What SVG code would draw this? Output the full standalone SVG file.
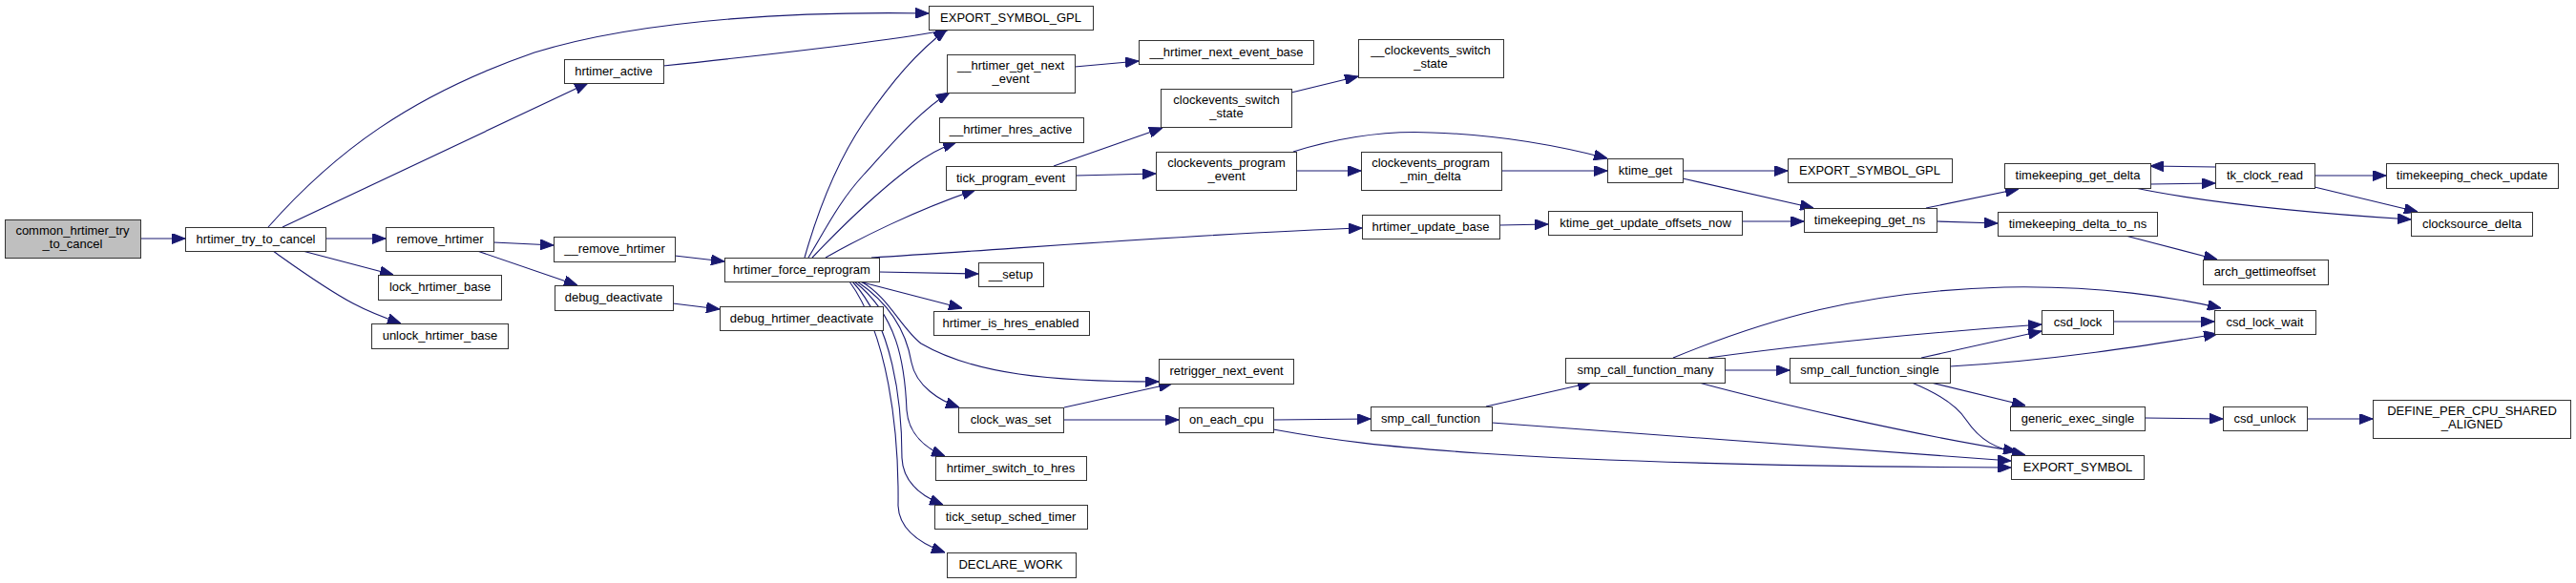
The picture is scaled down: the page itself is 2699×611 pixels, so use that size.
<svg xmlns="http://www.w3.org/2000/svg" width="2699" height="611" viewBox="0 0 2699 611">
<style>
.n rect{fill:#fff;stroke:#333;stroke-width:1}
.n text{font-family:"Liberation Sans",Arial,sans-serif;font-size:13px;fill:#000;text-anchor:middle}
.e path{fill:none;stroke:#191970;stroke-width:1.1;marker-end:url(#a)}
</style>
<defs>
<marker id="a" markerUnits="userSpaceOnUse" markerWidth="14" markerHeight="11" viewBox="0 0 14 11" refX="14" refY="5.5" orient="auto"><path d="M0,0 L14,5.5 L0,11 z" fill="#191970" stroke="#191970"/></marker>
</defs>
<rect width="2699" height="611" fill="#fff"/>
<g class="e" id="edges">
<path d="M147,250 L194,250"/>
<path d="M281,238 C350,160 430,100 560,55 C680,18 850,12 973,14"/>
<path d="M296,238 L616,87"/>
<path d="M341,250 L404,250"/>
<path d="M317,263 L412,288"/>
<path d="M286,263 C310,280 340,302 370,318 C385,326 400,332 420,339"/>
<path d="M695,69 C800,58 920,45 994,31"/>
<path d="M517,254 L580,257"/>
<path d="M500,263 L605,299"/>
<path d="M707,268 L759,274"/>
<path d="M705,318 L754,324"/>
<path d="M843,270 C860,210 880,165 905,128 C935,85 960,55 992,31"/>
<path d="M847,270 C865,240 880,210 905,183 C935,150 965,115 995,97"/>
<path d="M851,270 C870,250 890,230 910,212 C940,185 970,160 1002,149"/>
<path d="M865,270 C900,250 960,220 1022,199"/>
<path d="M913,270 C1050,262 1250,245 1427,239"/>
<path d="M921,285 L1025,287"/>
<path d="M900,295 L1008,323"/>
<path d="M902,295 C930,310 945,345 965,360 C1020,392 1100,400 1214,400"/>
<path d="M898,295 C935,320 950,350 955,380 C960,405 985,420 1005,427"/>
<path d="M895,295 C940,330 948,380 950,430 C952,455 970,470 990,478"/>
<path d="M893,295 C935,340 945,420 945,480 C946,505 965,520 988,529"/>
<path d="M890,295 C930,350 942,450 941,530 C942,555 965,570 990,579"/>
<path d="M1126,70 L1193,64"/>
<path d="M1104,174 L1218,134"/>
<path d="M1127,184 L1211,182"/>
<path d="M1353,97 L1423,80"/>
<path d="M1355,159 C1410,142 1460,137 1500,139 C1570,141 1630,152 1684,166"/>
<path d="M1358,179 L1426,179"/>
<path d="M1573,179 L1684,179"/>
<path d="M1763,179 L1873,179"/>
<path d="M1763,187 L1900,218"/>
<path d="M1571,236 L1622,235"/>
<path d="M1825,232 L1890,232"/>
<path d="M2018,218 L2115,198"/>
<path d="M2029,232 L2093,234"/>
<path d="M2253,193 L2321,192"/>
<path d="M2321,175 L2253,174"/>
<path d="M2237,197 C2300,210 2400,222 2526,230"/>
<path d="M2425,184 L2500,184"/>
<path d="M2425,196 L2533,222"/>
<path d="M2227,247 L2323,272"/>
<path d="M1115,427 L1228,402"/>
<path d="M1114,440 L1235,440"/>
<path d="M1334,440 L1436,439"/>
<path d="M1334,450 C1400,462 1450,468 1550,475 C1700,485 1900,489 2107,490"/>
<path d="M1557,426 L1667,401"/>
<path d="M1563,443 C1700,452 1900,468 2107,483"/>
<path d="M1753,375 C1850,335 1950,305 2100,301 C2200,299 2280,312 2327,323"/>
<path d="M1790,375 C1900,360 2000,350 2139,340"/>
<path d="M1807,388 L1875,388"/>
<path d="M1780,401 C1850,420 2000,455 2113,473"/>
<path d="M2013,375 L2139,347"/>
<path d="M2043,384 C2150,378 2250,362 2323,350"/>
<path d="M2023,401 L2122,425"/>
<path d="M2003,401 C2030,412 2050,425 2060,440 C2075,462 2090,470 2122,477"/>
<path d="M2214,337 L2320,337"/>
<path d="M2247,438 L2329,439"/>
<path d="M2417,439 L2486,439"/>
</g>
<g class="n" id="n0"><rect x="5.5" y="230.5" width="142" height="40" style="fill:#bfbfbf"/><text x="76" y="246">common_hrtimer_try</text><text x="76" y="260">_to_cancel</text></g>
<g class="n" id="n1"><rect x="194.5" y="238.5" width="147" height="25"/><text x="268" y="255">hrtimer_try_to_cancel</text></g>
<g class="n" id="n2"><rect x="591.5" y="62.5" width="104" height="25"/><text x="643" y="79">hrtimer_active</text></g>
<g class="n" id="n3"><rect x="404.5" y="238.5" width="113" height="25"/><text x="461" y="255">remove_hrtimer</text></g>
<g class="n" id="n4"><rect x="396.5" y="288.5" width="129" height="26"/><text x="461" y="305">lock_hrtimer_base</text></g>
<g class="n" id="n5"><rect x="389.5" y="339.5" width="143" height="26"/><text x="461" y="356">unlock_hrtimer_base</text></g>
<g class="n" id="n6"><rect x="973.5" y="6.5" width="172" height="25"/><text x="1059" y="23">EXPORT_SYMBOL_GPL</text></g>
<g class="n" id="n7"><rect x="580.5" y="248.5" width="127" height="26"/><text x="644" y="265">__remove_hrtimer</text></g>
<g class="n" id="n8"><rect x="581.5" y="299.5" width="124" height="26"/><text x="643" y="316">debug_deactivate</text></g>
<g class="n" id="n9"><rect x="759.5" y="270.5" width="162" height="25"/><text x="840" y="287">hrtimer_force_reprogram</text></g>
<g class="n" id="n10"><rect x="754.5" y="321.5" width="171" height="25"/><text x="840" y="338">debug_hrtimer_deactivate</text></g>
<g class="n" id="n11"><rect x="992.5" y="57.5" width="134" height="40"/><text x="1059" y="73">__hrtimer_get_next</text><text x="1059" y="87">_event</text></g>
<g class="n" id="n12"><rect x="984.5" y="123.5" width="151" height="26"/><text x="1059" y="140">__hrtimer_hres_active</text></g>
<g class="n" id="n13"><rect x="991.5" y="174.5" width="136" height="25"/><text x="1059" y="191">tick_program_event</text></g>
<g class="n" id="n14"><rect x="1025.5" y="275.5" width="68" height="25"/><text x="1059" y="292">__setup</text></g>
<g class="n" id="n15"><rect x="978.5" y="326.5" width="163" height="25"/><text x="1059" y="343">hrtimer_is_hres_enabled</text></g>
<g class="n" id="n16"><rect x="1214.5" y="376.5" width="141" height="26"/><text x="1285" y="393">retrigger_next_event</text></g>
<g class="n" id="n17"><rect x="1004.5" y="427.5" width="110" height="26"/><text x="1059" y="444">clock_was_set</text></g>
<g class="n" id="n18"><rect x="980.5" y="478.5" width="158" height="25"/><text x="1059" y="495">hrtimer_switch_to_hres</text></g>
<g class="n" id="n19"><rect x="979.5" y="529.5" width="160" height="25"/><text x="1059" y="546">tick_setup_sched_timer</text></g>
<g class="n" id="n20"><rect x="992.5" y="579.5" width="135" height="26"/><text x="1059" y="596">DECLARE_WORK</text></g>
<g class="n" id="n21"><rect x="1193.5" y="42.5" width="183" height="25"/><text x="1285" y="59">__hrtimer_next_event_base</text></g>
<g class="n" id="n22"><rect x="1216.5" y="93.5" width="137" height="40"/><text x="1285" y="109">clockevents_switch</text><text x="1285" y="123">_state</text></g>
<g class="n" id="n23"><rect x="1211.5" y="159.5" width="147" height="40"/><text x="1285" y="175">clockevents_program</text><text x="1285" y="189">_event</text></g>
<g class="n" id="n24"><rect x="1427.5" y="225.5" width="144" height="25"/><text x="1499" y="242">hrtimer_update_base</text></g>
<g class="n" id="n25"><rect x="1235.5" y="427.5" width="99" height="26"/><text x="1285" y="444">on_each_cpu</text></g>
<g class="n" id="n26"><rect x="1423.5" y="41.5" width="152" height="40"/><text x="1499" y="57">__clockevents_switch</text><text x="1499" y="71">_state</text></g>
<g class="n" id="n27"><rect x="1426.5" y="159.5" width="147" height="40"/><text x="1499" y="175">clockevents_program</text><text x="1499" y="189">_min_delta</text></g>
<g class="n" id="n28"><rect x="1684.5" y="166.5" width="79" height="25"/><text x="1724" y="183">ktime_get</text></g>
<g class="n" id="n29"><rect x="1622.5" y="221.5" width="203" height="25"/><text x="1724" y="238">ktime_get_update_offsets_now</text></g>
<g class="n" id="n30"><rect x="1436.5" y="426.5" width="127" height="25"/><text x="1499" y="443">smp_call_function</text></g>
<g class="n" id="n31"><rect x="1640.5" y="375.5" width="167" height="26"/><text x="1724" y="392">smp_call_function_many</text></g>
<g class="n" id="n32"><rect x="1873.5" y="166.5" width="172" height="25"/><text x="1959" y="183">EXPORT_SYMBOL_GPL</text></g>
<g class="n" id="n33"><rect x="1890.5" y="218.5" width="139" height="25"/><text x="1959" y="235">timekeeping_get_ns</text></g>
<g class="n" id="n34"><rect x="2100.5" y="171.5" width="153" height="26"/><text x="2177" y="188">timekeeping_get_delta</text></g>
<g class="n" id="n35"><rect x="2093.5" y="222.5" width="167" height="25"/><text x="2177" y="239">timekeeping_delta_to_ns</text></g>
<g class="n" id="n36"><rect x="1875.5" y="375.5" width="168" height="26"/><text x="1959" y="392">smp_call_function_single</text></g>
<g class="n" id="n37"><rect x="2139.5" y="325.5" width="75" height="25"/><text x="2177" y="342">csd_lock</text></g>
<g class="n" id="n38"><rect x="2106.5" y="426.5" width="141" height="25"/><text x="2177" y="443">generic_exec_single</text></g>
<g class="n" id="n39"><rect x="2107.5" y="477.5" width="139" height="25"/><text x="2177" y="494">EXPORT_SYMBOL</text></g>
<g class="n" id="n40"><rect x="2321.5" y="171.5" width="104" height="26"/><text x="2373" y="188">tk_clock_read</text></g>
<g class="n" id="n41"><rect x="2500.5" y="171.5" width="180" height="26"/><text x="2590" y="188">timekeeping_check_update</text></g>
<g class="n" id="n42"><rect x="2526.5" y="222.5" width="127" height="25"/><text x="2590" y="239">clocksource_delta</text></g>
<g class="n" id="n43"><rect x="2308.5" y="272.5" width="131" height="26"/><text x="2373" y="289">arch_gettimeoffset</text></g>
<g class="n" id="n44"><rect x="2320.5" y="325.5" width="106" height="25"/><text x="2373" y="342">csd_lock_wait</text></g>
<g class="n" id="n45"><rect x="2329.5" y="426.5" width="88" height="25"/><text x="2373" y="443">csd_unlock</text></g>
<g class="n" id="n46"><rect x="2486.5" y="419.5" width="207" height="40"/><text x="2590" y="435">DEFINE_PER_CPU_SHARED</text><text x="2590" y="449">_ALIGNED</text></g>
</svg>
